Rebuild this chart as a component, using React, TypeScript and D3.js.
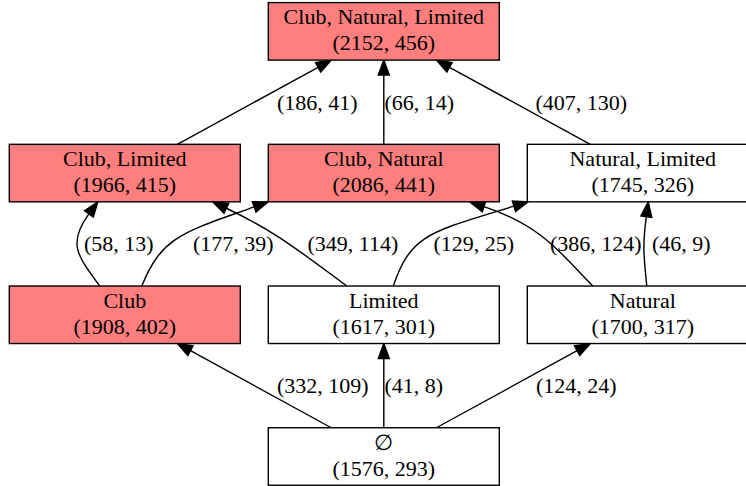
import React from "react";
import * as d3 from "d3";

// ---- data ----
const nodeNames = ["Club, Natural, Limited", "Club, Limited", "Club, Natural", "Natural, Limited", "Club", "Limited", "Natural", "\u2205"];
const nodeFirst = [2152, 1966, 2086, 1745, 1908, 1617, 1700, 1576];
const nodeSecond = [456, 415, 441, 326, 402, 301, 317, 293];
const nodeHighlighted = [true, true, true, false, true, false, false, false];
const nodeRow = [0, 1, 1, 1, 2, 2, 2, 3];
const nodeCol = [1, 0, 1, 2, 0, 1, 2, 1];

const edgeSource = [1, 2, 3, 4, 4, 5, 5, 6, 6, 7, 7, 7];
const edgeTarget = [0, 0, 0, 1, 2, 1, 3, 2, 3, 4, 5, 6];
const edgeFirst = [186, 66, 407, 58, 177, 349, 129, 386, 46, 332, 41, 124];
const edgeSecond = [41, 14, 130, 13, 39, 114, 25, 124, 9, 109, 8, 24];

// ---- layout (routing of the drawn graph) ----
// curved edges: source port dx, target port dx, handle1, handle2
const curveLayout: Record<number, { sdx: number; tdx: number; h1: [number, number]; h2: [number, number] }> = {
  3: { sdx: -25, tdx: -27, h1: [-22, -30], h2: [-22, 30] },
  4: { sdx: 17, tdx: -115.5, h1: [20, -50], h2: [-70, 25] },
  5: { sdx: -37, tdx: 88, h1: [-60, -45], h2: [40, 19] },
  6: { sdx: 9.5, tdx: -114.5, h1: [18, -52], h2: [-85, 26] },
  7: { sdx: -50, tdx: 86, h1: [-30, -30], h2: [60, 20] },
  8: { sdx: 4, tdx: 5.5, h1: [-3, -30], h2: [-4, 30] },
};
const labelLeft = [277, 384.5, 535.5, 84, 193, 307.5, 433.5, 550, 652, 277, 384.5, 536];

const W = 746;
const H = 486;
const nodeW = 231;
const nodeH = 57.5;
const FONT = "'Liberation Serif', 'Times New Roman', Times, serif";

export default function App() {
  const x = d3.scaleLinear().domain([0, 2]).range([124.8, 642.8]);
  const y = d3.scaleLinear().domain([0, 3]).range([31.35, 456.5]);

  const nodes = nodeNames.map((name, i) => ({
    name,
    a: nodeFirst[i],
    b: nodeSecond[i],
    hl: nodeHighlighted[i],
    cx: x(nodeCol[i]),
    cy: y(nodeRow[i]),
  }));

  const arrowLen = 15;
  const arrowHalf = 5.5;

  const edges = edgeSource.map((s, i) => {
    const src = nodes[s];
    const tgt = nodes[edgeTarget[i]];
    const c = curveLayout[i];
    let d: string;
    let tip: [number, number];
    let dir: [number, number];
    if (c) {
      const p0: [number, number] = [src.cx + c.sdx, src.cy - nodeH / 2];
      const p3: [number, number] = [tgt.cx + c.tdx, tgt.cy + nodeH / 2];
      const p1: [number, number] = [p0[0] + c.h1[0], p0[1] + c.h1[1]];
      const p2: [number, number] = [p3[0] + c.h2[0], p3[1] + c.h2[1]];
      // shorten end so line goes to arrow base
      const dx = p3[0] - p2[0];
      const dy = p3[1] - p2[1];
      const L = Math.hypot(dx, dy);
      const u: [number, number] = [dx / L, dy / L];
      const base: [number, number] = [p3[0] - u[0] * arrowLen, p3[1] - u[1] * arrowLen];
      const p = d3.path();
      p.moveTo(p0[0], p0[1]);
      p.bezierCurveTo(p1[0], p1[1], p2[0] - u[0] * arrowLen, p2[1] - u[1] * arrowLen, base[0], base[1]);
      d = p.toString();
      tip = p3;
      dir = u;
    } else {
      const dx = tgt.cx - src.cx;
      const dy = tgt.cy - src.cy;
      const t = nodeH / 2 / Math.abs(dy);
      const p0: [number, number] = [src.cx + dx * t, src.cy + dy * t];
      const p3: [number, number] = [tgt.cx - dx * t, tgt.cy - dy * t];
      const L = Math.hypot(dx, dy);
      const u: [number, number] = [dx / L, dy / L];
      const base: [number, number] = [p3[0] - u[0] * arrowLen, p3[1] - u[1] * arrowLen];
      d = d3.line()([p0, base]) as string;
      tip = p3;
      dir = u;
    }
    const bx = tip[0] - dir[0] * arrowLen;
    const by = tip[1] - dir[1] * arrowLen;
    const nx = -dir[1];
    const ny = dir[0];
    const arrow = [
      [tip[0], tip[1]],
      [bx + nx * arrowHalf, by + ny * arrowHalf],
      [bx - nx * arrowHalf, by - ny * arrowHalf],
    ];
    const gapMid = (src.cy + tgt.cy) / 2;
    return {
      d,
      arrow: arrow.map((p) => p.join(",")).join(" "),
      label: `(${edgeFirst[i]}, ${edgeSecond[i]})`,
      lx: labelLeft[i],
      ly: gapMid + 7.5,
    };
  });

  return (
    <svg
      width={W}
      height={H}
      style={{ position: "absolute", left: 0, top: 0, background: "#fff" }}
      fontFamily={FONT}
      fontSize={22}
    >
      <rect x={0} y={0} width={W} height={H} fill="#fff" />
      {edges.map((e, i) => (
        <g key={"e" + i}>
          <path d={e.d} fill="none" stroke="#000" strokeWidth={1.4} />
          <polygon points={e.arrow} fill="#000" stroke="#000" strokeWidth={1.4} />
          <text x={e.lx} y={e.ly} fill="#000">
            {e.label}
          </text>
        </g>
      ))}
      {nodes.map((n, i) => (
        <g key={"n" + i}>
          <rect
            x={n.cx - nodeW / 2}
            y={n.cy - nodeH / 2}
            width={nodeW}
            height={nodeH}
            fill={n.hl ? "#ff7f7f" : "#fff"}
            stroke="#000"
            strokeWidth={1.4}
          />
          <text x={n.cx} y={n.cy - 7} textAnchor="middle" fill="#000">
            {n.name}
          </text>
          <text x={n.cx} y={n.cy + 19} textAnchor="middle" fill="#000">
            {`(${n.a}, ${n.b})`}
          </text>
        </g>
      ))}
    </svg>
  );
}
